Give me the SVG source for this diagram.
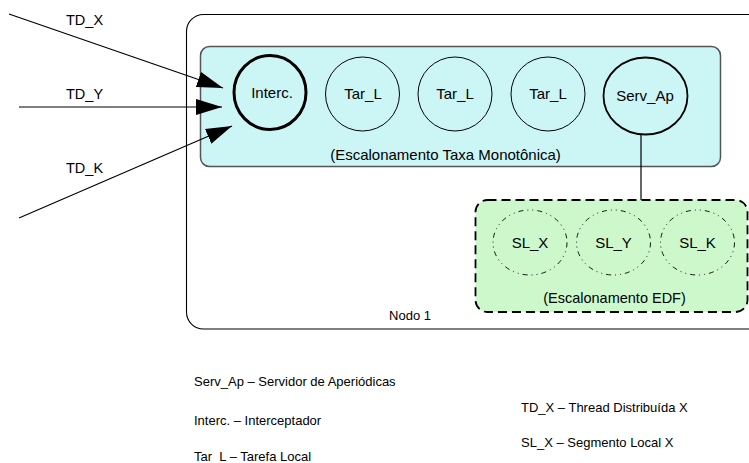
<svg xmlns="http://www.w3.org/2000/svg" width="749" height="463" viewBox="0 0 749 463">
<defs>
<style>
text{font-family:"Liberation Sans",Arial,sans-serif;fill:#000}
.lbl{font-size:15px;text-anchor:middle}
.leg{font-size:13px}
.td{font-size:14.5px}
.node{fill:none;stroke:#000}
.sl{fill:none;stroke:#000;stroke-width:0.9;stroke-dasharray:5 4 1 4 1 4}
.conn{stroke:#000;stroke-width:1.2;fill:none}
</style>
<marker id="ah" markerUnits="userSpaceOnUse" markerWidth="27" markerHeight="17" refX="26" refY="8" orient="auto">
<path d="M0,0 L26,8 L0,16 z" fill="#000"/>
</marker>
</defs>
<g id="nodo1">
<rect x="186.5" y="14.5" width="580" height="314.5" rx="17" ry="17" fill="#fff" stroke="#000" stroke-width="1.1"/>
<text x="410" y="320" class="leg" text-anchor="middle">Nodo 1</text>
</g>
<g id="rm-group">
<rect x="200.5" y="46.5" width="520" height="120" rx="9" ry="9" fill="#ccf6f6" stroke="#555" stroke-width="1.5"/>
<text x="445.5" y="160" class="lbl">(Escalonamento Taxa Monotônica)</text>
</g>
<g id="edf-group">
<rect x="475.5" y="200" width="272" height="112" rx="12" ry="12" fill="#ccf8cc" stroke="#000" stroke-width="1.8" stroke-dasharray="9 5"/>
<text x="614.5" y="303" class="lbl" style="font-size:14.5px">(Escalonamento EDF)</text>
</g>
<g id="interc">
<ellipse cx="270" cy="92.5" rx="36" ry="37" class="node" stroke-width="3"/>
<text x="272" y="98" class="lbl">Interc.</text>
</g>
<g id="tar1">
<ellipse cx="362.5" cy="94" rx="37" ry="37" class="node" stroke-width="1"/>
<text x="363" y="99" class="lbl">Tar_L</text>
</g>
<g id="tar2">
<ellipse cx="455" cy="94" rx="37" ry="37" class="node" stroke-width="1"/>
<text x="455" y="99" class="lbl">Tar_L</text>
</g>
<g id="tar3">
<ellipse cx="548" cy="94" rx="37" ry="37" class="node" stroke-width="1"/>
<text x="548" y="99" class="lbl">Tar_L</text>
</g>
<g id="servap">
<ellipse cx="645.5" cy="96" rx="42" ry="38.5" class="node" stroke-width="1.8"/>
<text x="645" y="101" class="lbl">Serv_Ap</text>
</g>
<g id="slx">
<ellipse cx="530" cy="242.5" rx="37" ry="32.5" class="sl"/>
<text x="530" y="248" class="lbl">SL_X</text>
</g>
<g id="sly">
<ellipse cx="613.5" cy="242.5" rx="37" ry="32.5" class="sl"/>
<text x="613.5" y="248" class="lbl">SL_Y</text>
</g>
<g id="slk">
<ellipse cx="697.5" cy="242.5" rx="37" ry="32.5" class="sl"/>
<text x="697.5" y="248" class="lbl">SL_K</text>
</g>
<g id="connectors">
<line x1="9" y1="14" x2="223" y2="88" class="conn" marker-end="url(#ah)"/>
<line x1="19" y1="107" x2="222" y2="107" class="conn" marker-end="url(#ah)"/>
<line x1="19" y1="218" x2="232" y2="126" class="conn" marker-end="url(#ah)"/>
<line x1="641" y1="135" x2="641" y2="200" class="conn" stroke-width="1.5"/>
<text x="66" y="25" class="td">TD_X</text>
<text x="66" y="99" class="td">TD_Y</text>
<text x="66" y="173" class="td">TD_K</text>
</g>
<g id="legend">
<text x="194" y="386" class="leg">Serv_Ap – Servidor de Aperiódicas</text>
<text x="194" y="425" class="leg">Interc. – Interceptador</text>
<text x="194" y="461" class="leg">Tar_L – Tarefa Local</text>
<text x="521" y="412" class="leg">TD_X – Thread Distribuída X</text>
<text x="521" y="447" class="leg">SL_X – Segmento Local X</text>
</g>
</svg>
